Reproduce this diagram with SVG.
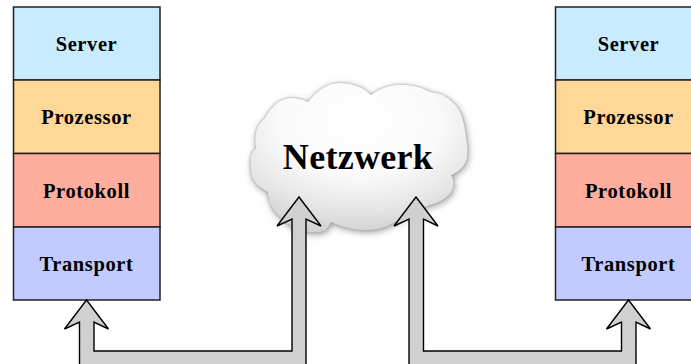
<svg xmlns="http://www.w3.org/2000/svg" width="691" height="364" viewBox="0 0 691 364">
<defs>
<style>
.box{stroke:#222;stroke-width:1.5}
.lbl{font-family:"Liberation Serif",serif;font-weight:bold;font-size:20.5px;text-anchor:middle;fill:#000;letter-spacing:.6px}
.arr{fill:#d0d0d0;stroke:#000;stroke-width:1.4;stroke-linejoin:miter}
</style>
<radialGradient id="cg" cx="0.5" cy="0.25" r="0.75"><stop offset="0" stop-color="#fff"/><stop offset="0.5" stop-color="#fafafa"/><stop offset="0.8" stop-color="#e6e6e6"/><stop offset="1" stop-color="#d2d2d2"/></radialGradient>
<filter id="blur" x="-20%" y="-20%" width="140%" height="140%"><feGaussianBlur stdDeviation="3.500"/></filter>
<filter id="edge" x="-5%" y="-5%" width="110%" height="110%"><feGaussianBlur stdDeviation="1"/></filter>
<path id="cl" d="M371 95C362 86 350 83 340 83C332 83 325 86 320 90C315 94 311 98 308 102C302 99 296 98 290 98C282 99 277 102 273 107C269 110 267 114 265 118C260 122 257 127 256 132C255 138 255 143 256 148C252 152 250 156 251 160C250 167 251 172 252 177C256 185 262 189 268 192C268 196 269 200 270 203C272 209 276 213 280 217C288 226 298 230 310 232C316 233 322 232 326 230C328 227 330 224 331 222C344 228 358 231 370 230C380 230 388 226 395 222C403 218 409 214 414 209C420 208 425 207 430 205C438 203 444 200 450 194C454 188 455 182 451 175C459 172 466 165 467 158C468 150 467 143 466 137C465 126 462 115 458 108C455 104 452 102 450 100C445 95 438 93 430 92C421 87 412 85 403 85C393 84 380 88 371 95Z"/>
</defs>
<rect width="691" height="364" fill="#fff"/>
<g id="cloud">
<use href="#cl" fill="#999" filter="url(#blur)" transform="translate(1 2)"/>
<use href="#cl" fill="#a0a0a0" filter="url(#edge)"/>
<use href="#cl" fill="url(#cg)"/>
<text x="358" y="168.500" font-family="Liberation Serif, serif" font-weight="bold" font-size="36" text-anchor="middle" letter-spacing=".3">Netzwerk</text>
</g>
<g id="stack-left">
<g id="l-server"><rect class="box" x="13.5" y="7" width="146.500" height="73" fill="#c9ebff"/><text class="lbl" x="86.500" y="50.500">Server</text></g>
<g id="l-prozessor"><rect class="box" x="13.5" y="80" width="146.500" height="73.500" fill="#ffd797"/><text class="lbl" x="86.500" y="123.500">Prozessor</text></g>
<g id="l-protokoll"><rect class="box" x="13.5" y="153.500" width="146.500" height="73.500" fill="#ffad9c"/><text class="lbl" x="86.500" y="197.500">Protokoll</text></g>
<g id="l-transport"><rect class="box" x="13.5" y="227" width="146.500" height="73" fill="#c1cbff"/><text class="lbl" x="86.500" y="270.500">Transport</text></g>
</g>
<g id="stack-right">
<g id="r-server"><rect class="box" x="555.5" y="7" width="146.500" height="73" fill="#c9ebff"/><text class="lbl" x="628.500" y="50.500">Server</text></g>
<g id="r-prozessor"><rect class="box" x="555.5" y="80" width="146.500" height="73.500" fill="#ffd797"/><text class="lbl" x="628.500" y="123.500">Prozessor</text></g>
<g id="r-protokoll"><rect class="box" x="555.5" y="153.500" width="146.500" height="73.500" fill="#ffad9c"/><text class="lbl" x="628.500" y="197.500">Protokoll</text></g>
<g id="r-transport"><rect class="box" x="555.5" y="227" width="146.500" height="73" fill="#c1cbff"/><text class="lbl" x="628.500" y="270.500">Transport</text></g>
</g>
<g id="connectors">
<path class="arr" d="M79.500 370V322L64.500 329L86.500 300L108.500 329L94 322V351H292V219L277 226L299 197L321 226L306 219V370Z"/>
<path class="arr" d="M409 370V219L394 226L416 197L438 226L423.500 219V351H621.500V322L606.500 329L628.500 300L650.500 329L636 322V370Z"/>
</g>
</svg>
